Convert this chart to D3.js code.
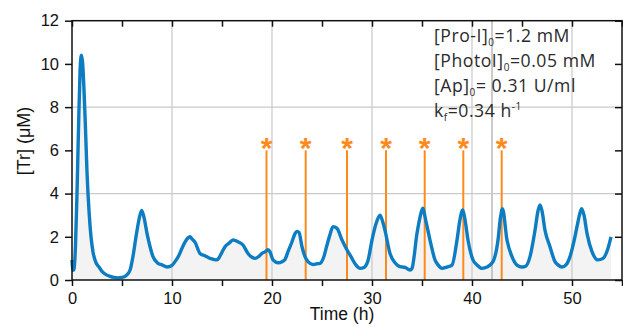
<!DOCTYPE html>
<html>
<head>
<meta charset="utf-8">
<script src="https://cdn.jsdelivr.net/npm/d3@7/dist/d3.min.js"></script>
<style>
  html, body { margin: 0; padding: 0; background: #fff; }
  svg { display: block; }
</style>
</head>
<body>
<div id="chart"></div>
<script>
// ---- data ----
const timeH = [0, 0.1, 0.2, 0.35, 0.5, 0.65, 0.8, 0.93, 1.05, 1.2, 1.35, 1.5, 1.7, 1.9, 2.1, 2.4, 2.7, 3.0, 3.4, 3.8, 4.2, 4.6, 5.0, 5.4, 5.8, 6.1, 6.4, 6.7, 6.97, 7.2, 7.5, 7.8, 8.1, 8.6, 9.0, 9.5, 10.0, 10.3, 10.7, 11.0, 11.3, 11.6, 11.8, 12.0, 12.3, 12.8, 13.3, 13.8, 14.2, 14.5, 14.9, 15.3, 15.7, 16.1, 16.6, 17.1, 17.6, 18.0, 18.3, 18.7, 19.0, 19.3, 19.6, 19.8, 20.1, 20.6, 21.0, 21.3, 21.6, 22.0, 22.3, 22.5, 22.7, 23.0, 23.3, 23.6, 24.1, 24.5, 24.8, 25.2, 25.5, 25.8, 26.1, 26.5, 27.0, 27.5, 27.9, 28.4, 28.8, 29.2, 29.6, 30.0, 30.4, 30.8, 31.0, 31.3, 31.8, 32.3, 32.8, 33.3, 33.8, 34.0, 34.5, 34.8, 35.07, 35.4, 35.8, 36.3, 36.6, 37.0, 37.5, 38.0, 38.5, 38.8, 39.07, 39.3, 39.6, 40.1, 40.5, 41.0, 41.5, 42.1, 42.6, 42.85, 43.05, 43.5, 44.0, 44.5, 45.0, 45.4, 45.8, 46.3, 46.6, 46.8, 47.0, 47.3, 47.8, 48.3, 48.6, 49.0, 49.4, 49.8, 50.2, 50.5, 50.8, 50.97, 51.2, 51.5, 52.0, 52.6, 53.1, 53.6, 53.9];
const trConc = [0.93, 0.45, 0.5, 1.6, 4.0, 7.0, 9.6, 10.4, 10.1, 8.8, 7.0, 5.0, 3.2, 2.0, 1.3, 0.8, 0.6, 0.4, 0.25, 0.17, 0.12, 0.1, 0.12, 0.2, 0.45, 1.1, 2.0, 2.8, 3.22, 2.9, 2.16, 1.55, 1.08, 0.77, 0.7, 0.6, 0.68, 0.85, 1.15, 1.47, 1.75, 1.95, 2.0, 1.9, 1.75, 1.23, 1.12, 1.0, 0.95, 0.93, 1.2, 1.54, 1.7, 1.85, 1.77, 1.62, 1.23, 1.05, 1.0, 1.1, 1.23, 1.3, 1.4, 1.3, 0.93, 0.8, 0.85, 0.95, 1.31, 1.77, 2.15, 2.25, 2.2, 1.54, 1.08, 0.85, 0.72, 0.75, 0.77, 1.1, 1.62, 2.1, 2.47, 2.39, 1.85, 1.39, 1.08, 0.69, 0.54, 0.58, 0.9, 1.85, 2.6, 3.0, 2.8, 2.3, 1.23, 0.8, 0.62, 0.58, 0.46, 0.54, 2.16, 2.9, 3.32, 2.7, 1.85, 0.93, 0.7, 0.54, 0.6, 0.69, 1.85, 2.8, 3.24, 2.8, 1.85, 0.93, 0.7, 0.54, 0.6, 0.85, 1.85, 2.9, 3.3, 1.85, 1.08, 0.69, 0.6, 0.65, 1.08, 2.3, 3.2, 3.47, 3.2, 2.3, 1.54, 0.85, 0.7, 0.6, 0.7, 1.08, 1.8, 2.47, 3.1, 3.3, 3.0, 2.16, 1.31, 0.93, 1.0, 1.47, 2.0];
const markTimes = [19.45, 23.37, 27.5, 31.4, 35.27, 39.13, 42.97];
const markHeight = 6;
const xTicks = [0, 10, 20, 30, 40, 50];
const xMinorTicks = [5, 15, 25, 35, 45, 55];
const yTicks = [0, 2, 4, 6, 8, 10, 12];
const xGrid = [10, 20, 30, 40, 42, 50];
const yGrid = [4, 8];
const legendLines = [
  {main: "[Pro-I]", sub: "0", rest: "=1.2 mM"},
  {main: "[PhotoI]", sub: "0", rest: "=0.05 mM"},
  {main: "[Ap]", sub: "0", rest: "= 0.31 U/ml"},
  {main: "k", sub: "f", rest: "=0.34 h", sup: "-1"}
];

// ---- chart ----
const W = 623, H = 327;
const svg = d3.select("#chart").append("svg").attr("width", W).attr("height", H);
const x = d3.scaleLinear().domain([0, 55]).range([72, 622]);
const y = d3.scaleLinear().domain([0, 12]).range([280, 20.7]);

const pts = timeH.map((t, i) => [t, trConc[i]]);

// area fill
svg.append("path")
  .datum(pts)
  .attr("fill", "#f3f3f3")
  .attr("d", d3.area().x(d => x(d[0])).y0(y(0)).y1(d => y(d[1])).curve(d3.curveMonotoneX));

// grid
svg.append("g").selectAll("line").data(xGrid).join("line")
  .attr("x1", d => x(d)).attr("x2", d => x(d))
  .attr("y1", y(0)).attr("y2", y(12))
  .attr("stroke", d => d === 42 ? "#a8a8a8" : "#c9c9c9").attr("stroke-width", 1.2);
svg.append("g").selectAll("line").data(yGrid).join("line")
  .attr("x1", x(0)).attr("x2", x(55))
  .attr("y1", d => y(d)).attr("y2", d => y(d))
  .attr("stroke", "#c9c9c9").attr("stroke-width", 1.2);

// orange markers
svg.append("g").selectAll("line").data(markTimes).join("line")
  .attr("x1", d => x(d)).attr("x2", d => x(d))
  .attr("y1", y(0)).attr("y2", y(markHeight))
  .attr("stroke", "#ff8a1c").attr("stroke-width", 2);
svg.append("g").selectAll("text").data(markTimes).join("text")
  .attr("x", d => x(d)).attr("y", y(markHeight) + 8)
  .attr("text-anchor", "middle")
  .attr("font-family", "Liberation Sans, Arial, sans-serif")
  .attr("font-weight", "bold")
  .attr("font-size", 30)
  .attr("fill", "#ff8a1c")
  .text("*");

// curve
svg.append("path")
  .datum(pts)
  .attr("fill", "none")
  .attr("stroke", "#0c7dc2")
  .attr("stroke-width", 3.4)
  .attr("stroke-linejoin", "round")
  .attr("d", d3.line().x(d => x(d[0])).y(d => y(d[1])).curve(d3.curveMonotoneX));

// axes
const font = "Liberation Sans, Arial, sans-serif";
const axBottom = svg.append("g").attr("transform", `translate(0,${y(0)})`)
  .call(d3.axisBottom(x).tickValues(xTicks).tickSize(6).tickPadding(6).tickFormat(d3.format("d")));
const axBottomMinor = svg.append("g").attr("transform", `translate(0,${y(0)})`)
  .call(d3.axisBottom(x).tickValues(xMinorTicks).tickSize(6).tickFormat(""));
const axLeft = svg.append("g").attr("transform", `translate(${x(0)},0)`)
  .call(d3.axisLeft(y).tickValues(yTicks).tickSize(7).tickPadding(6).tickFormat(d3.format("d")));
const axTop = svg.append("g").attr("transform", `translate(0,${y(12)})`)
  .call(d3.axisBottom(x).tickValues(xTicks.concat(xMinorTicks)).tickSize(6).tickFormat(""));
const axRight = svg.append("g").attr("transform", `translate(${x(55)},0)`)
  .call(d3.axisLeft(y).tickValues(yTicks).tickSize(7).tickFormat(""));
[axBottom, axBottomMinor, axLeft, axTop, axRight].forEach(g => {
  g.select(".domain").remove();
  g.selectAll("line").attr("stroke", "#111").attr("stroke-width", 1.5);
  g.selectAll("text").attr("font-family", font).attr("font-size", 16.5).attr("fill", "#111");
});
// frame
svg.append("rect")
  .attr("x", x(0)).attr("y", y(12))
  .attr("width", x(55) - x(0)).attr("height", y(0) - y(12))
  .attr("fill", "none").attr("stroke", "#111").attr("stroke-width", 1.5);

// axis labels
svg.append("text")
  .attr("x", 342).attr("y", 320)
  .attr("text-anchor", "middle")
  .attr("font-family", font).attr("font-size", 17.5).attr("fill", "#111")
  .text("Time (h)");
svg.append("text")
  .attr("transform", `translate(30,141) rotate(-90)`)
  .attr("text-anchor", "middle")
  .attr("font-family", font).attr("font-size", 18).attr("fill", "#111")
  .text("[Tr] (μM)");

// legend text
const legendFont = "'Open Sans', Lato, sans-serif";
const lg = svg.append("g");
legendLines.forEach((l, i) => {
  const t = lg.append("text")
    .attr("x", 434).attr("y", 41.5 + i * 25.2)
    .attr("font-family", legendFont).attr("font-size", 17.6)
    .attr("letter-spacing", 0.55).attr("fill", "#2a2a2a");
  t.append("tspan").text(l.main);
  t.append("tspan").attr("font-size", 10).attr("dy", 4).text(l.sub);
  t.append("tspan").attr("dy", -4).text(l.rest);
  if (l.sup) t.append("tspan").attr("font-size", 10).attr("dy", -7).text(l.sup);
});
</script>
</body>
</html>
